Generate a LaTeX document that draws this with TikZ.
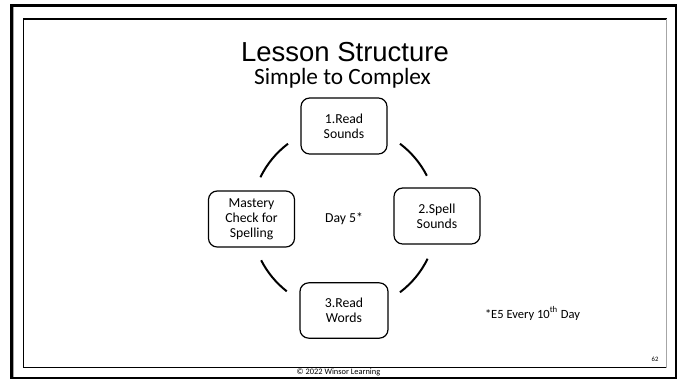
\documentclass[tikz,border=0pt]{standalone}
\usepackage{fontspec}
\setmainfont{Carlito}
\newfontfamily\arialf{Liberation Sans}
\begin{document}
\begin{tikzpicture}[x=0.75pt,y=-0.75pt,
  stepbox/.style={draw=black,line width=0.9pt,rounded corners=6.5pt,minimum width=64.5pt,minimum height=42pt,align=center,inner sep=1pt,font=\fontsize{10.3}{11.3}\selectfont},
  ring/.style={line width=1.5pt,black},
  note/.style={inner sep=0pt,font=\fontsize{9.4}{11}\selectfont}]
\useasboundingbox (0,0) rectangle (683,379);
\fill[white] (0,0) rectangle (683,379);
% outer frame
\draw[line width=1.6pt,black] (11.5,5.5) rectangle (676,378.5);
\draw[line width=0.5pt,gray!70] (13.3,7.3) -- (13.3,377);
% inner frame
\draw[line width=0.9pt,black] (666.5,19) -- (23.5,19) -- (23.5,367.5) -- (666.5,367.5);
\draw[line width=0.9pt,gray!70] (666.5,19) -- (666.5,367.5);
% titles
\node[anchor=base,inner sep=0pt,font=\arialf\fontsize{20.6}{24}\selectfont] (title) at (345,61) {Lesson Structure};
\node[anchor=base,inner sep=0pt,font=\fontsize{17.5}{20}\selectfont] (sub) at (342.5,84) {Simple to Complex};
% boxes
\coordinate (c) at (344,218);
\node[stepbox] (s1) at (344,126) {1.Read\\Sounds};
\node[stepbox] (s2) at (437,216) {2.Spell\\Sounds};
\node[stepbox,minimum width=66pt,minimum height=41.5pt] (s3) at (344,310.5) {3.Read\\Words};
\node[stepbox] (s4) at (251.5,219) {Mastery\\Check for\\Spelling};
\node[inner sep=0pt,font=\fontsize{10.3}{11.3}\selectfont] (day) at (344,219) {Day 5*};
% ring arcs
\draw[ring] (c) ++(-127:93) arc[start angle=-127,end angle=-154,radius=93];
\draw[ring] (c) ++(-53:93) arc[start angle=-53,end angle=-27,radius=93];
\draw[ring] (c) ++(-207:93) arc[start angle=-207,end angle=-232,radius=93];
\draw[ring] (c) ++(-307:93) arc[start angle=-307,end angle=-334,radius=93];
% notes
\node[note,anchor=base] (foot) at (532.5,318) {*E5 Every 10\textsuperscript{th} Day};
\node[inner sep=0pt,anchor=base,font=\fontsize{5}{6}\selectfont] (pg) at (655,361) {62};
\node[inner sep=0pt,anchor=base,font=\fontsize{6.3}{7}\selectfont] (copy) at (338.5,374.5) {© 2022 Winsor Learning};
\end{tikzpicture}
\end{document}
